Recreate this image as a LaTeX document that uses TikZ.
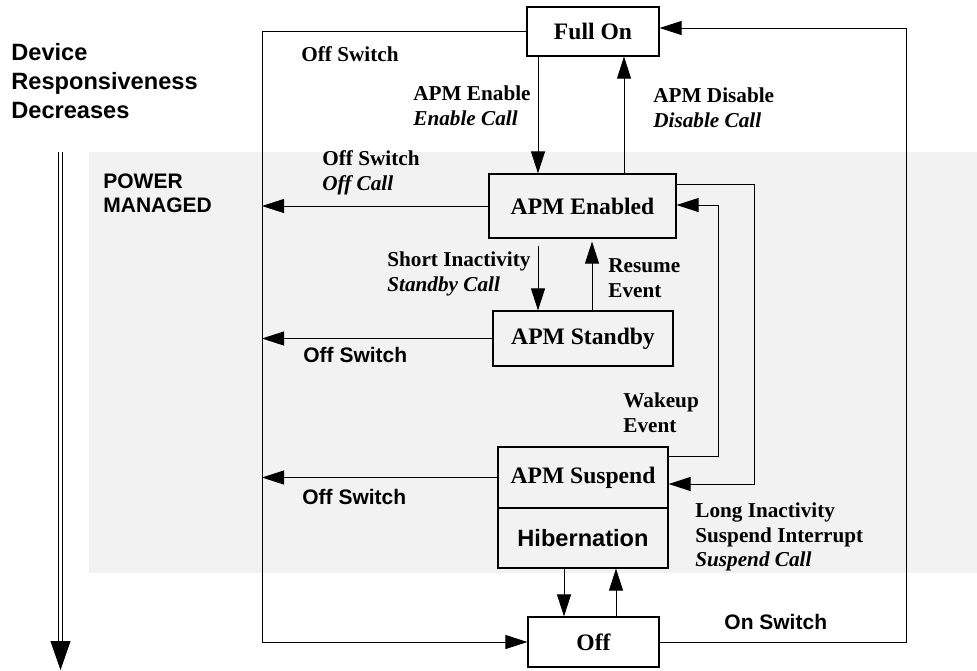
\documentclass[tikz,border=0pt]{standalone}
\usepackage{fontspec}
\setmainfont{Liberation Serif}
\setsansfont{Liberation Sans}
\usetikzlibrary{
	arrows.meta,
	positioning,
}
\tikzset{state node/.style={draw,rectangle,inner sep=0mm,line width=0.6pt,font=\fontsize{11.8}{14}\selectfont\bfseries,}}
\tikzset{sans state/.style={state node,font=\fontsize{11.8}{14}\selectfont\sffamily\bfseries,}}
\tikzset{note/.style={inner sep=0mm,anchor=west,align=left,font=\fontsize{10.6}{12.3}\selectfont\bfseries,}}
\tikzset{note sans/.style={note,font=\fontsize{10.5}{12}\selectfont\sffamily\bfseries,}}
\tikzset{
	>={Triangle[length=11pt,width=7pt]},
	line width=0.5pt,
}

\begin{document}
\begin{tikzpicture}[x=0.5pt,y=-0.5pt]

\useasboundingbox (0,0) rectangle (977,670);
\fill[black!5] (89,152) rectangle (977,573);

% states
\node[state node,minimum width=66pt,minimum height=24.5pt] (full) at (593,31.5) {Full On};
\node[state node,minimum width=93.5pt,minimum height=32pt] (enabled) at (582.5,206) {APM Enabled};
\node[state node,minimum width=90pt,minimum height=27.5pt] (standby) at (583,338.5) {APM Standby};
\node[state node,minimum width=85pt,minimum height=30.5pt] (suspend) at (583,477.5) {APM Suspend};
\node[sans state,minimum width=85pt,minimum height=30pt] (hib) at (583,538) {Hibernation};
\node[state node,minimum width=65.5pt,minimum height=25pt] (off) at (593.5,642) {Off};

% bus lines
\coordinate (west bot) at (262,642);
\coordinate (east top) at (906,28);
\coordinate (long top) at (754,184);
\coordinate (long bot) at (754,484);
\coordinate (wake top) at (718,205);
\coordinate (wake bot) at (718,456);
\coordinate (c enable) at (538,0);
\coordinate (c disable) at (624,0);
\coordinate (c resume) at (592,0);
\coordinate (c down) at (564,0);
\coordinate (c up) at (616,0);

\draw[->] (full.west) -| (west bot) -- (off.west);
\draw[->] (off.east) -| (east top) -- (full.east |- east top);

\foreach \s in {enabled,standby,suspend}{
	\draw[->] (\s.west) -- (\s.west -| west bot);
}

\draw[->] (full.south -| c enable) -- (enabled.north -| c enable);
\draw[->] (enabled.north -| c disable) -- (full.south -| c disable);
\draw[->,shorten <=3.5pt] (enabled.south -| c enable) -- (standby.north -| c enable);
\draw[->,shorten >=1.5pt] (standby.north -| c resume) -- (enabled.south -| c resume);
\draw[->] (hib.south -| c down) -- (off.north -| c down);
\draw[->] (off.north -| c up) -- (hib.south -| c up);

\draw[->] (enabled.east |- long top) -- (long top) -- (long bot) -- (suspend.east |- long bot);
\draw[->] (suspend.east |- wake bot) -- (wake bot) -- (wake top) -- (enabled.east |- wake top);

% responsiveness scale
\coordinate (scale top) at (60.5,152);
\coordinate (scale mid) at (60.5,643);
\coordinate (scale bot) at (60.5,670);
\draw[double,double distance=1.4pt] (scale top) -- (scale mid);
\draw[-{Triangle[length=14.5pt,width=10pt]}] (scale mid) -- (scale bot);

% labels
\node[note sans,font=\fontsize{11.8}{14.5}\selectfont\sffamily\bfseries] (resp) at (11,81) {Device\\Responsiveness\\Decreases};
\node[note sans] (pm) at (103,193) {POWER\\MANAGED};
\node[note] (off top) at (301,54) {Off Switch};
\node[note] (enable lbl) at (413,106) {APM Enable\\\textit{Enable Call}};
\node[note] (disable lbl) at (653,108) {APM Disable\\\textit{Disable Call}};
\node[note] (off call) at (322,173) {Off Switch\\\textit{Off Call}};
\node[note] (short lbl) at (387,274) {Short Inactivity\\\textit{Standby Call}};
\node[note] (resume lbl) at (608,278) {Resume\\Event};
\node[note sans] (off standby) at (303,355) {Off Switch};
\node[note] (wake lbl) at (623,413) {Wakeup\\Event};
\node[note sans] (off suspend) at (302,497) {Off Switch};
\node[note] (long lbl) at (695,537) {Long Inactivity\\Suspend Interrupt\\\textit{Suspend Call}};
\node[note sans] (on lbl) at (724,622) {On Switch};

\end{tikzpicture}
\end{document}
